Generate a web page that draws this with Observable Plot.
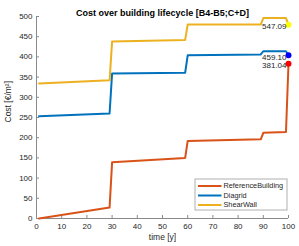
<!DOCTYPE html>
<html>
<head>
<meta charset="utf-8">
<script src="https://cdn.jsdelivr.net/npm/d3@7"></script>
<script src="https://cdn.jsdelivr.net/npm/@observablehq/plot@0.6"></script>
<style>
  html, body { margin: 0; padding: 0; background: white; }
  #chart { width: 299px; height: 246px; overflow: hidden; }
  #chart svg { display: block; }
</style>
</head>
<body>
<div id="chart"></div>
<script>
// ---- data ----
const seriesNames = ["ReferenceBuilding", "Diagrid", "ShearWall"];
const years = [1, 29, 30, 59, 60, 89, 90, 99, 100];
const referenceCost = [0, 27, 139, 150, 192, 196, 212, 214, 383];
const diagridCost = [253, 260, 359, 361, 404, 406, 414, 414, 404];
const shearWallCost = [334, 342, 438, 442, 480, 480, 496, 496, 479.5];
const endLabels = ["381.04", "459.10", "547.09"];
const lineColors = ["#D95319", "#0072BD", "#EDB120"];
const dotColors = ["#FF0000", "#0000FF", "#FFFF00"];
const xTicks = [0, 10, 20, 30, 40, 50, 60, 70, 80, 90, 100];
const yTicks = [0, 50, 100, 150, 200, 250, 300, 350, 400, 450, 500];
const titleText = "Cost over building lifecycle [B4-B5;C+D]";
const xLabel = "time [y]";
const yLabel = "Cost [€/m²]";

// ---- build table ----
const costs = [referenceCost, diagridCost, shearWallCost];
const rows = [];
seriesNames.forEach((s, i) => years.forEach((t, j) => rows.push({series: s, t, cost: costs[i][j]})));
const ends = seriesNames.map((s, i) => ({
  series: s, t: years[years.length - 1], cost: costs[i][costs[i].length - 1],
  label: endLabels[i], dot: dotColors[i]
}));

const W = 299, H = 246, mL = 36, mR = 11, mT = 16, mB = 28;
const PW = W - mL - mR, PH = H - mT - mB;
const font = "'Liberation Sans', Arial, Helvetica, sans-serif";
const ink = "#262626";
const axisGray = "#8a8a8a";

// legend geometry (pixels, frame-relative)
const lgX0 = 194.5 - mL, lgX1 = 286.5 - mL, lgY0 = 178.5 - mT, lgY1 = 209.5 - mT;
const legendMarks = [
  Plot.frame({insetLeft: lgX0, insetRight: PW - lgX1, insetTop: lgY0, insetBottom: PH - lgY1,
              fill: "white", stroke: "#b0b0b0", strokeWidth: 1})
];
seriesNames.forEach((s, i) => {
  const yy = 185.5 - mT + i * 9.5;
  legendMarks.push(Plot.frame({insetLeft: 197.5 - mL, insetRight: PW - (221 - mL),
    insetTop: yy - 1, insetBottom: PH - (yy + 1), fill: lineColors[i], stroke: null}));
  legendMarks.push(Plot.text([s], {text: d => d, frameAnchor: "top-left", textAnchor: "start",
    lineAnchor: "middle", dx: 223 - mL, dy: yy, fontSize: 7.3, fill: ink}));
});

const chart = Plot.plot({
  width: W, height: H,
  marginLeft: mL, marginRight: mR, marginTop: mT, marginBottom: mB,
  style: {fontFamily: font, fontSize: "8px", color: ink, background: "white"},
  x: {domain: [0, 100], label: null},
  y: {domain: [0, 500], label: null},
  color: {domain: seriesNames, range: lineColors},
  marks: [
    Plot.axisX({ticks: xTicks, tickSize: 0, tickPadding: 5, tickFormat: d => String(d), fill: ink}),
    Plot.axisY({ticks: yTicks, tickSize: 0, tickPadding: 4, tickFormat: d => String(d), fill: ink}),
    Plot.tickX(xTicks, {x: d => d, insetTop: PH - 3, stroke: axisGray}),
    Plot.tickY(yTicks, {y: d => d, insetRight: PW - 3, stroke: axisGray}),
    Plot.ruleX([0], {stroke: axisGray}),
    Plot.ruleY([0], {stroke: axisGray}),
    Plot.line(rows, {x: "t", y: "cost", z: "series", stroke: "series", strokeWidth: 2, curve: "linear"}),
    Plot.dot(ends, {x: "t", y: "cost", r: 3, fill: "dot", stroke: null}),
    Plot.text(ends, {x: "t", y: "cost", text: "label", textAnchor: "end", dx: -2, dy: 2, fontSize: 8, fill: ink}),
    ...legendMarks,
    Plot.text([titleText], {text: d => d, frameAnchor: "top", dy: -7, fontWeight: "bold", fontSize: 9, fill: "#000"}),
    Plot.text([xLabel], {text: d => d, frameAnchor: "bottom", dy: 21, fontSize: 8.5, fill: ink}),
    Plot.text([yLabel], {text: d => d, frameAnchor: "left", dx: -28, dy: 5, rotate: -90, fontSize: 8.5, fill: ink})
  ]
});

document.getElementById("chart").appendChild(chart);
</script>
</body>
</html>
